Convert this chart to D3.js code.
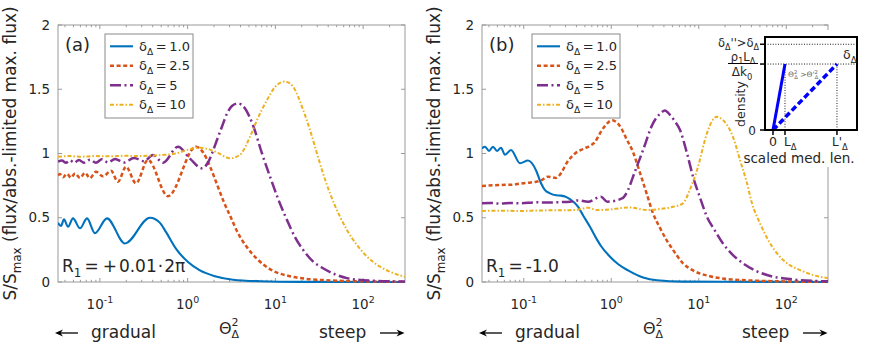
<!DOCTYPE html>
<html><head><meta charset="utf-8">
<script src="https://cdn.jsdelivr.net/npm/d3@7"></script>
<style>
body{margin:0;background:#fff}
svg{display:block}
text{font-family:"DejaVu Sans",sans-serif;fill:#262626}
</style>
</head><body>
<svg id="c" width="872" height="347"></svg>
<script>
// ---------- data ----------
const deltaLabels = ["1.0", "2.5", "5", "10"];
const yTickValues = [0, 0.5, 1, 1.5, 2];
const xTickExponents = [-1, 0, 1, 2];
const xDomain = [1/30, 300];
const yDomain = [0, 2];

// panel (a), R1 = +0.01*2pi
const a_x1 = [0.0333,0.0361,0.039,0.0433,0.0494,0.0594,0.0714,0.0879,0.1205,0.193,0.372,0.484,0.566,0.736,1.01,1.38,2.05,3.29,6.68,19.1,300];
const a_y1 = [0.46,0.436,0.488,0.43,0.495,0.418,0.495,0.38,0.495,0.30,0.50,0.46,0.39,0.26,0.155,0.09,0.045,0.018,0.006,0.001,0];
const a_x2 = [0.0333,0.0351,0.038,0.0422,0.0469,0.0521,0.0594,0.0677,0.0771,0.0903,0.1086,0.134,0.1607,0.1986,0.258,0.353,0.597,1.247,1.497,1.798,2.16,2.597,3.12,3.75,4.75,6.18,8.69,14.7,34.9,129,300];
const a_y2 = [0.83,0.84,0.815,0.842,0.812,0.845,0.81,0.85,0.808,0.858,0.822,0.866,0.78,0.897,0.768,0.95,0.668,1.053,1.01,0.90,0.76,0.62,0.50,0.38,0.27,0.18,0.10,0.045,0.015,0.004,0.002];
const a_x3 = [0.0333,0.037,0.0411,0.0457,0.0507,0.0578,0.0659,0.0771,0.0903,0.1057,0.1239,0.1487,0.1884,0.245,0.318,0.403,0.524,0.776,1.064,1.458,1.706,1.945,2.16,2.466,2.81,3.2,3.75,4.51,5.56,7.04,8.69,10.7,13.6,16.7,20.7,26.8,34.9,47.8,65.4,129,300];
const a_y3 = [0.936,0.945,0.928,0.948,0.928,0.95,0.928,0.952,0.928,0.955,0.93,0.958,0.93,0.965,0.94,0.988,0.928,1.053,0.96,0.885,0.93,1.02,1.105,1.21,1.31,1.37,1.39,1.35,1.22,1.0,0.82,0.65,0.48,0.35,0.25,0.16,0.107,0.06,0.03,0.01,0.003];
const a_x4 = [0.0333,0.0457,0.0594,0.0879,0.130,0.193,0.2866,0.425,0.552,0.736,1.01,1.38,1.798,2.22,3.04,3.95,5.14,6.18,8.03,10.4,12.9,15.9,20.7,24.8,29.8,34.9,41.9,54.5,65.4,85.1,111,155.6,202,300];
const a_y4 = [0.975,0.98,0.975,0.98,0.978,0.982,0.98,0.985,0.99,1.0,1.03,1.045,1.03,1.005,0.963,0.99,1.13,1.26,1.416,1.533,1.56,1.52,1.34,1.183,1.0,0.846,0.69,0.508,0.405,0.288,0.197,0.119,0.08,0.04];

// panel (b), R1 = -1.0
const b_x1 = [0.0333,0.0361,0.0401,0.0445,0.0495,0.0549,0.061,0.0715,0.0906,0.1119,0.138,0.157,0.175,0.1995,0.234,0.2667,0.296,0.337,0.417,0.475,0.571,0.687,0.763,0.968,1.194,1.556,2.31,3.33,6.61,300];
const b_y1 = [1.04,1.053,1.02,1.053,1.02,1.045,0.99,1.027,0.924,0.945,0.87,0.77,0.715,0.69,0.675,0.672,0.665,0.645,0.586,0.52,0.43,0.33,0.28,0.197,0.14,0.09,0.035,0.013,0.003,0];
const b_x2 = [0.0333,0.0535,0.0715,0.0906,0.1119,0.138,0.157,0.1893,0.234,0.2667,0.312,0.385,0.475,0.571,0.652,0.763,0.849,1.02,1.164,1.294,1.476,1.775,2.13,2.56,3.0,3.61,4.34,5.08,6.61,8.6,13.4,19.9,38.5,144,300];
const b_y2 = [0.748,0.755,0.757,0.765,0.773,0.78,0.79,0.82,0.81,0.846,0.93,1.0,1.035,1.06,1.09,1.17,1.215,1.258,1.24,1.2,1.12,1.01,0.85,0.68,0.535,0.42,0.32,0.25,0.145,0.09,0.045,0.025,0.012,0.003,0.001];
const b_x3 = [0.0333,0.0411,0.0535,0.0715,0.0906,0.138,0.1995,0.2667,0.337,0.417,0.542,0.763,0.9,1.327,1.556,1.775,2.31,3.0,3.61,4.11,4.69,5.35,6.11,7.35,8.6,10.3,12.4,15.3,18.9,24.6,32.0,43.9,60.2,119,300];
const b_y3 = [0.612,0.615,0.61,0.615,0.612,0.62,0.618,0.622,0.625,0.635,0.625,0.664,0.625,0.65,0.716,0.82,1.027,1.235,1.31,1.335,1.30,1.25,1.183,1.0,0.82,0.66,0.508,0.40,0.30,0.21,0.145,0.09,0.054,0.02,0.005];
const b_x4 = [0.0333,0.0535,0.0906,0.1533,0.2597,0.385,0.542,0.687,0.968,1.294,1.637,2.56,3.61,5.08,6.61,7.94,9.55,12.4,14.1,16.2,18.9,24.6,29.6,35.6,40.3,50.1,61.8,78.4,104.7,144,213,300];
const b_y4 = [0.553,0.555,0.553,0.557,0.558,0.56,0.578,0.56,0.565,0.575,0.58,0.56,0.568,0.585,0.612,0.72,0.87,1.157,1.25,1.286,1.26,1.13,0.95,0.768,0.62,0.457,0.33,0.223,0.14,0.093,0.05,0.03];

// inset sketch (scaled medium length vs density)
const insetXTicks = [0, 1, 5.33];       // 0, L_Δ, L'_Δ
const insetYTicks = [0, 1, 1.3];        // 0, ρ1LΔ/Δk0, δΔ''
const insetSolidX = [0, 1], insetSolidY = [0, 1];
const insetDashX = [0, 5.33], insetDashY = [0, 1];

// ---------- drawing ----------
const svg = d3.select("#c");
const TOP = 25, BOTTOM = 282;
const AX = "#9a9a9a";
const styles = [
  {color:"#0072BD", width:2.1, dash:null},
  {color:"#D95319", width:2.5, dash:"4,2.6"},
  {color:"#7E2F8E", width:2.5, dash:"11,3.5,2,3.5"},
  {color:"#EDB120", width:2, dash:"4,2,1.5,2"}
];

function rich(text, parts, size){
  let shift = 0;
  parts.forEach(p => {
    const [t, m, dx] = p;
    const tgt = m === "sub" ? size*0.3 : (m === "sup" ? -size*0.42 : 0);
    const fs = m === "n" ? size : size*0.7;
    const ts = text.append("tspan").attr("dy", tgt - shift).attr("font-size", fs).text(t);
    if (dx) ts.attr("dx", dx);
    shift = tgt;
  });
  return text;
}

function arrow(g, x1, x2, y){
  const dir = Math.sign(x2 - x1);
  g.append("line").attr("x1", x1).attr("x2", x2 - dir*4).attr("y1", y).attr("y2", y)
    .attr("stroke", "#000").attr("stroke-width", 1.3);
  const L = 8, H = 3.6;
  g.append("path")
    .attr("d", `M${x2},${y} L${x2 - dir*L},${y - H} L${x2 - dir*(L-2.5)},${y} L${x2 - dir*L},${y + H} Z`)
    .attr("fill", "#000");
}

function panel(p){
  const x = d3.scaleLog().domain(xDomain).range([p.left, p.right]);
  const y = d3.scaleLinear().domain(yDomain).range([BOTTOM, TOP]);
  const g = svg.append("g");
  const id = "clip" + p.key;
  svg.append("clipPath").attr("id", id).append("rect")
    .attr("x", p.left).attr("y", TOP - 3).attr("width", p.right - p.left).attr("height", BOTTOM - TOP + 6);

  g.append("rect").attr("x", p.left).attr("y", TOP).attr("width", p.right - p.left).attr("height", BOTTOM - TOP)
    .attr("fill", "none").attr("stroke", AX).attr("stroke-width", 1);

  const majors = xTickExponents.map(e => Math.pow(10, e));
  const minors = [];
  for (let e = -2; e <= 2; e++) for (let m = 2; m <= 9; m++) {
    const v = m * Math.pow(10, e);
    if (v > xDomain[0] && v < xDomain[1]) minors.push(v);
  }
  const tk = g.append("g").attr("stroke", AX).attr("stroke-width", 1);
  majors.forEach(v => {
    const xx = x(v);
    tk.append("line").attr("x1", xx).attr("x2", xx).attr("y1", BOTTOM).attr("y2", BOTTOM - 4);
    tk.append("line").attr("x1", xx).attr("x2", xx).attr("y1", TOP).attr("y2", TOP + 4);
  });
  minors.forEach(v => {
    const xx = x(v);
    tk.append("line").attr("x1", xx).attr("x2", xx).attr("y1", BOTTOM).attr("y2", BOTTOM - 2.2);
    tk.append("line").attr("x1", xx).attr("x2", xx).attr("y1", TOP).attr("y2", TOP + 2.2);
  });
  yTickValues.forEach(v => {
    const yy = y(v);
    tk.append("line").attr("x1", p.left).attr("x2", p.left + 4).attr("y1", yy).attr("y2", yy);
    tk.append("line").attr("x1", p.right).attr("x2", p.right - 4).attr("y1", yy).attr("y2", yy);
  });

  yTickValues.forEach(v => {
    g.append("text").attr("x", p.left - 8).attr("y", y(v) + 4.7).attr("text-anchor", "end")
      .attr("font-size", 13.5).text(d3.format("")(v));
  });
  xTickExponents.forEach(e => {
    const t = g.append("text").attr("x", x(Math.pow(10, e))).attr("y", 309).attr("text-anchor", "middle");
    rich(t, [["10", "n"], [String(e), "sup"]], 13.5);
  });

  const line = d3.line().x(d => x(d[0])).y(d => y(d[1])).curve(d3.curveMonotoneX);
  p.series.forEach((s, i) => {
    const st = styles[i];
    const path = g.append("path").attr("clip-path", `url(#${id})`)
      .attr("d", line(d3.zip(s[0], s[1])))
      .attr("fill", "none").attr("stroke", st.color).attr("stroke-width", st.width)
      .attr("stroke-linejoin", "round");
    if (st.dash) path.attr("stroke-dasharray", st.dash);
  });

  const lx = p.legendX, ly = 34;
  const lg = g.append("g");
  lg.append("rect").attr("x", lx).attr("y", ly).attr("width", 88).attr("height", 84)
    .attr("fill", "#fff").attr("stroke", "#8a8a8a").attr("stroke-width", 1);
  deltaLabels.forEach((lab, i) => {
    const by = 50.8 + i*19.5;
    const st = styles[i];
    const ln = lg.append("line").attr("x1", lx + 5).attr("x2", lx + 28).attr("y1", by - 4.5).attr("y2", by - 4.5)
      .attr("stroke", st.color).attr("stroke-width", st.width);
    if (st.dash) ln.attr("stroke-dasharray", st.dash);
    const t = lg.append("text").attr("x", lx + 34).attr("y", by);
    rich(t, [["δ", "n"], ["Δ", "sub"], ["\u2009=\u2009", "n"], [lab, "n"]], 13);
  });

  g.append("text").attr("x", p.left + 7).attr("y", 50.5).attr("font-size", 18).text(p.tag);
  const r = g.append("text").attr("x", p.left + 4).attr("y", 271.5);
  rich(r, p.r1, 17);

  const yl = g.append("text").attr("transform", `translate(${p.left - 42},153.5) rotate(-90)`).attr("text-anchor", "middle");
  rich(yl, [["S/S", "n"], ["max", "sub"], [" (flux/abs.-limited max. flux)", "n"]], 17);

  const xl = g.append("text").attr("x", p.left + 161).attr("y", 334).attr("font-size", 16);
  xl.append("tspan").text("Θ");
  xl.append("tspan").attr("font-size", 11).attr("dy", -8).text("2");
  xl.append("tspan").attr("font-size", 11).attr("dx", -7).attr("dy", 12).text("Δ");

  arrow(g, p.left + 20, p.left - 3, 333);
  g.append("text").attr("x", p.left + 33).attr("y", 337.5).attr("font-size", 17).text("gradual");
  g.append("text").attr("x", p.right - 86).attr("y", 337.5).attr("font-size", 17).text("steep");
  arrow(g, p.right - 25, p.right - 0.5, 333);
}

panel({key:"a", left:58, right:405, legendX:105, tag:"(a)",
  r1:[["R","n"],["1","sub"],["=","n",3],["+","n",4],["0.01","n",2],["·","n",1],["2π","n",1]],
  series:[[a_x1,a_y1],[a_x2,a_y2],[a_x3,a_y3],[a_x4,a_y4]]});
panel({key:"b", left:482, right:828, legendX:532, tag:"(b)",
  r1:[["R","n"],["1","sub"],["=","n",3],["-1.0","n",3]],
  series:[[b_x1,b_y1],[b_x2,b_y2],[b_x3,b_y3],[b_x4,b_y4]]});

// ---------- inset ----------
const ig = svg.append("g");
ig.append("rect").attr("x", 748).attr("y", 30).attr("width", 124).attr("height", 137).attr("fill", "#fff");
const ix = d3.scaleLinear().domain([-0.667, 7.0]).range([765, 857]);
const iy = d3.scaleLinear().domain([0, 1.41]).range([130, 37]);
ig.append("rect").attr("x", 765).attr("y", 37).attr("width", 92).attr("height", 93).attr("fill", "#fff");
const dot = {stroke:"#000", w:0.9, dash:"1,1.6"};
[insetYTicks[1], insetYTicks[2]].forEach(v => {
  ig.append("line").attr("x1", 765).attr("x2", 857).attr("y1", iy(v)).attr("y2", iy(v))
    .attr("stroke", dot.stroke).attr("stroke-width", dot.w).attr("stroke-dasharray", dot.dash);
});
[insetXTicks[1], insetXTicks[2]].forEach(v => {
  ig.append("line").attr("x1", ix(v)).attr("x2", ix(v)).attr("y1", iy(0)).attr("y2", iy(1))
    .attr("stroke", dot.stroke).attr("stroke-width", dot.w).attr("stroke-dasharray", dot.dash);
});
const iline = d3.line().x(d => ix(d[0])).y(d => iy(d[1]));
ig.append("path").attr("d", iline(d3.zip(insetSolidX, insetSolidY))).attr("stroke", "#0000ff")
  .attr("stroke-width", 3).attr("fill", "none");
ig.append("path").attr("d", iline(d3.zip(insetDashX, insetDashY))).attr("stroke", "#0000ff")
  .attr("stroke-width", 3.5).attr("fill", "none").attr("stroke-dasharray", "6,3");
ig.append("rect").attr("x", 765).attr("y", 37).attr("width", 92).attr("height", 93)
  .attr("fill", "none").attr("stroke", "#000").attr("stroke-width", 2);
insetYTicks.forEach(v => {
  ig.append("line").attr("x1", 760).attr("x2", 765).attr("y1", iy(v)).attr("y2", iy(v)).attr("stroke", "#000").attr("stroke-width", 1.5);
});
insetXTicks.forEach(v => {
  ig.append("line").attr("x1", ix(v)).attr("x2", ix(v)).attr("y1", 130).attr("y2", 135).attr("stroke", "#000").attr("stroke-width", 1.5);
});
ig.append("text").attr("x", 756).attr("y", 134.5).attr("text-anchor", "end").attr("font-size", 12).text("0");
rich(ig.append("text").attr("x", 759).attr("y", 46.5).attr("text-anchor", "end"),
  [["δ","n"],["Δ","sub"],["''>δ","n"],["Δ","sub"]], 11.5);
rich(ig.append("text").attr("x", 743).attr("y", 60.5).attr("text-anchor", "middle"),
  [["ρ","n"],["1","sub"],["L","n"],["Δ","sub"]], 11.5);
ig.append("line").attr("x1", 728).attr("x2", 758).attr("y1", 63.5).attr("y2", 63.5).attr("stroke", "#000").attr("stroke-width", 1);
rich(ig.append("text").attr("x", 742).attr("y", 76).attr("text-anchor", "middle"),
  [["Δk","n"],["0","sub"]], 12);
ig.append("text").attr("transform", "translate(745,104) rotate(-90)").attr("text-anchor", "middle")
  .attr("font-size", 12.5).text("density");
rich(ig.append("text").attr("x", 843).attr("y", 59), [["δ","n"],["Δ","sub"]], 12.5);
ig.append("text").attr("x", ix(0)).attr("y", 146).attr("text-anchor", "middle").attr("font-size", 12.5).text("0");
rich(ig.append("text").attr("x", ix(1) - 1).attr("y", 146), [["L","n"],["Δ","sub"]], 12);
rich(ig.append("text").attr("x", ix(5.33) - 5).attr("y", 146), [["L'","n"],["Δ","sub"]], 12);
ig.append("text").attr("x", 799).attr("y", 163).attr("text-anchor", "middle").attr("font-size", 13.5).text("scaled med. len.");
const tiny = ig.append("text").attr("x", 788).attr("y", 77).style("fill", "#666");
rich(tiny, [["Θ","n"],["2","sup"],["Δ","sub",-3],[" >Θ'","n"],["2","sup"],["Δ","sub",-3]], 7.5);
</script>
</body></html>
